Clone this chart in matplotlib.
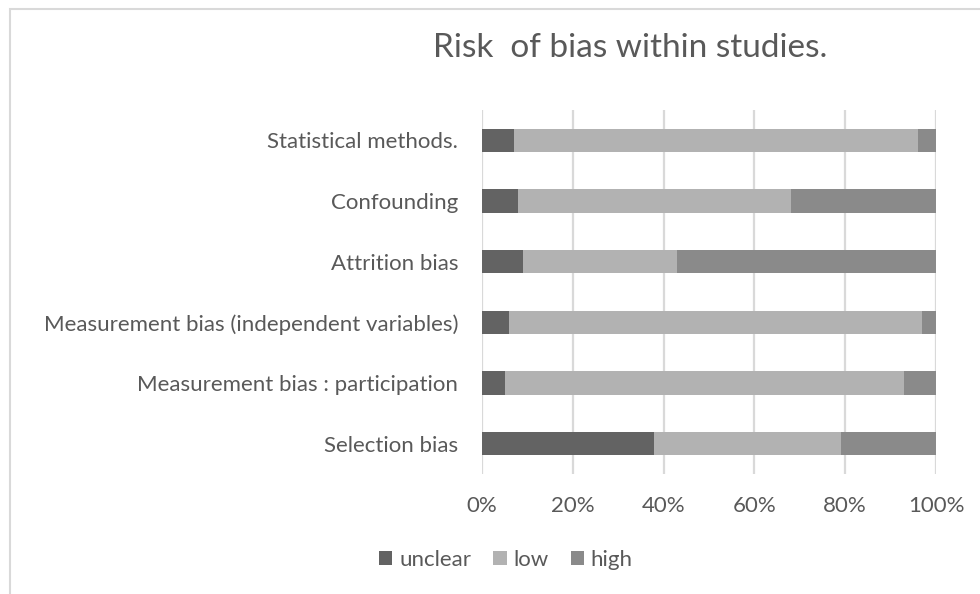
import matplotlib.pyplot as plt
from matplotlib.patches import Rectangle

# ---------------------------------
# data (percent of studies)
# ---------------------------------
categories = [
    "Statistical methods.",
    "Confounding",
    "Attrition bias",
    "Measurement bias (independent variables)",
    "Measurement bias : participation",
    "Selection bias",
]
unclear = [7, 8, 9, 6, 5, 38]
low = [89, 60, 34, 91, 88, 41]
high = [4, 32, 57, 3, 7, 21]

series_names = ["unclear", "low", "high"]
colors = ["#636363", "#b2b2b2", "#8a8a8a"]
tick_values = [0, 20, 40, 60, 80, 100]

plt.rcParams["font.family"] = ["Lato", "DejaVu Sans"]
text_color = "#595959"

fig = plt.figure(figsize=(9.8, 5.94), dpi=100)
ax = fig.add_axes([0.4918, 0.202, 0.4633, 0.6128])

y = range(len(categories))
left = [0] * len(categories)
for name, vals, col in zip(series_names, [unclear, low, high], colors):
    ax.barh(y, vals, left=left, height=0.38, color=col, label=name, zorder=3)
    left = [a + b for a, b in zip(left, vals)]

ax.set_xlim(0, 100)
ax.set_ylim(len(categories) - 0.5, -0.5)
ax.set_yticks(list(y))
ax.set_yticklabels(categories, fontsize=16, color=text_color)
ax.set_xticks(tick_values)
ax.set_xticklabels([f"{v}%" for v in tick_values], fontsize=16, color=text_color)
ax.tick_params(axis="both", length=0)
ax.tick_params(axis="y", pad=17)
ax.tick_params(axis="x", pad=16)

# 격자
ax.grid(axis="x", color="#d9d9d9", linewidth=1.6, zorder=0)
for s in ax.spines.values():
    s.set_visible(False)

# 제목
fig.text(630 / 980, 1 - 48 / 594, "Risk  of bias within studies.", fontsize=24,
         color=text_color, ha="center", va="center")

# 범례
ax.legend(loc="center", bbox_to_anchor=(506 / 980, 1 - 560 / 594),
          bbox_transform=fig.transFigure, ncol=3, frameon=False,
          fontsize=16, handlelength=0.6, handleheight=0.6,
          handletextpad=0.3, columnspacing=1.0, labelcolor=text_color)

# 외곽 테두리
fig.patches.append(Rectangle((10 / 980, -0.1), 1.2, 1.1 - 9 / 594,
                             transform=fig.transFigure, fill=False,
                             edgecolor="#d9d9d9", linewidth=1.5))

fig.savefig("out.png", dpi=100)
